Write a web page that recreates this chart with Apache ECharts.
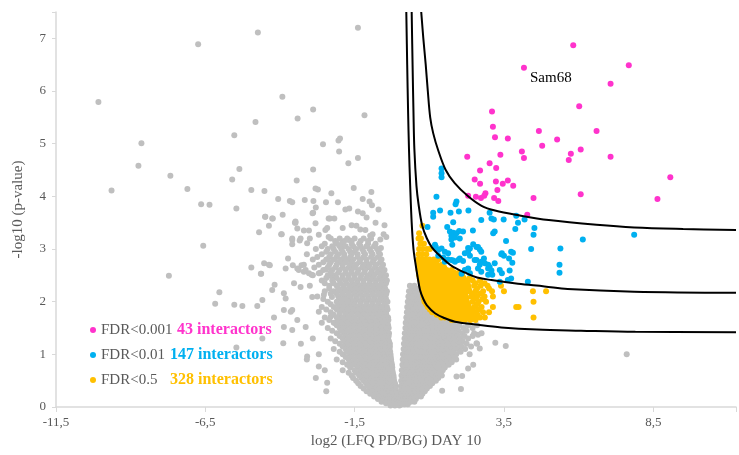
<!DOCTYPE html>
<html>
<head>
<meta charset="utf-8">
<script src="https://cdn.jsdelivr.net/npm/echarts@6/dist/echarts.min.js"></script>
<style>
    html, body { margin: 0; padding: 0; background: #fff; }
    #main { width: 739px; height: 455px; }
</style>
</head>
<body>
<div id="main"></div>
<script>
// tick labels
var xTickValues = [-11.5, -6.5, -1.5, 3.5, 8.5];
var yTickValues = [0, 1, 2, 3, 4, 5, 6, 7];

// legend
var legendNames = ['FDR<0.001', 'FDR<0.01', 'FDR<0.5'];
var legendCounts = ['43 interactors', '147 interactors', '328 interactors'];

// labelled protein
var samPoint = [4.17, 6.44];
var samName = 'Sam68';

// FDR<0.001
var pinkPoints = [
    [5.82, 6.87], [4.17, 6.44], [7.68, 6.49], [7.07, 6.14], [6.02, 5.71], [3.10, 5.61], [3.13, 5.32],
    [3.2, 5.12], [3.63, 5.10], [4.67, 5.24], [6.6, 5.24], [5.28, 5.08], [4.78, 4.96], [6.07, 4.89],
    [5.74, 4.81], [5.67, 4.69], [7.07, 4.75], [4.1, 4.85], [4.17, 4.73], [2.27, 4.75], [3.38, 4.79],
    [3.02, 4.63], [3.24, 4.54], [2.7, 4.49], [2.52, 4.32], [2.7, 4.24], [3.23, 4.28], [3.46, 4.24],
    [3.63, 4.3], [3.81, 4.2], [3.28, 4.12], [2.88, 4.06], [2.3, 4.01], [2.56, 3.99], [2.73, 3.97],
    [2.84, 4.01], [3.17, 3.97], [3.31, 3.91], [4.49, 3.97], [6.07, 4.04], [9.07, 4.36], [8.64, 3.95],
    [4.28, 3.65]
];

// FDR<0.01
var bluePoints = [
    [1.41, 4.53], [1.41, 4.44], [1.41, 4.36], [1.24, 3.99], [1.91, 3.9], [1.88, 3.85], [1.36, 3.73],
    [1.13, 3.69], [1.13, 3.61], [1.71, 3.69], [1.99, 3.71], [2.31, 3.73], [3.02, 3.69], [3.08, 3.58],
    [3.16, 3.56], [2.74, 3.55], [3.49, 3.56], [3.91, 3.63], [3.97, 3.5], [4.19, 3.56], [4.52, 3.4],
    [3.88, 3.38], [1.8, 3.51], [0.94, 3.42], [1.6, 3.42], [2.46, 3.35], [3.19, 3.33], [3.14, 3.3],
    [1.69, 3.33], [1.8, 3.31], [1.91, 3.3], [2.0, 3.34], [2.13, 3.33], [1.74, 3.25], [1.86, 3.22],
    [2.02, 3.2], [1.74, 3.18], [4.49, 3.27], [6.14, 3.18], [3.57, 3.15], [2.47, 3.09], [2.58, 3.04],
    [2.69, 2.99], [2.74, 2.95], [2.3, 3.02], [2.3, 2.95], [2.36, 2.87], [1.77, 3.08], [1.22, 3.04],
    [1.3, 2.98], [1.41, 3.01], [1.52, 2.95], [1.63, 2.92], [1.3, 2.87], [1.47, 2.84], [1.63, 2.8],
    [1.8, 2.78], [1.52, 2.76], [1.97, 2.79], [2.13, 2.77], [2.58, 2.79], [2.74, 2.76], [2.83, 2.82],
    [2.69, 2.7], [2.97, 2.7], [3.43, 2.92], [3.5, 2.87], [3.74, 2.95], [3.67, 2.82], [4.41, 3.0],
    [5.39, 3.01], [5.36, 2.7], [5.36, 2.55], [2.3, 2.63], [2.36, 2.54], [2.19, 2.6], [2.08, 2.53],
    [3.02, 2.66], [3.08, 2.59], [2.97, 2.51], [3.36, 2.6], [3.43, 2.54], [3.74, 2.44], [3.69, 2.59],
    [2.63, 2.63], [2.74, 2.57], [3.36, 2.38], [3.63, 2.41], [4.3, 2.38], [3.11, 2.51], [3.8, 2.93],
    [3.41, 2.9], [3.19, 2.73], [7.86, 3.27], [3.78, 2.74], [1.19, 3.08], [1.74, 2.79], [1.86, 2.76],
    [2.02, 2.82], [2.19, 2.92], [2.36, 3.01], [2.63, 3.04], [2.52, 2.79], [2.86, 2.73], [2.97, 2.63]
];

// FDR<0.5, one row per -log10 level
var orangeRows = [
    [3.44, [0.77]],
    [3.3, [0.66]],
    [3.2, [0.64, 0.72]],
    [3.1, [0.7, 0.82]],
    [3.0, [0.66, 0.78, 0.92, 1.02]],
    [2.9, [0.64, 0.76, 0.9]],
    [2.8, [0.63, 0.74, 0.86, 1.0, 1.15, 1.3]],
    [2.75, [0.68, 0.8, 0.93, 1.08, 1.22]],
    [2.7, [0.62, 0.74, 0.86, 0.98, 1.12, 1.26, 1.42]],
    [2.65, [0.7, 0.82, 0.94, 1.06, 1.2, 1.34, 1.5]],
    [2.6, [0.64, 0.76, 0.88, 1.0, 1.13, 1.27, 1.42, 1.58, 1.75]],
    [2.55, [0.7, 0.82, 0.94, 1.07, 1.2, 1.35, 1.5, 1.67, 1.84, 2.0]],
    [2.5, [0.66, 0.78, 0.9, 1.02, 1.15, 1.29, 1.44, 1.6, 1.76, 1.92, 2.1]],
    [2.45, [0.68, 0.8, 0.92, 1.04, 1.17, 1.31, 1.46, 1.62, 1.78, 1.95, 2.15, 2.35]],
    [2.4, [0.7, 0.82, 0.94, 1.06, 1.2, 1.34, 1.48, 1.63, 1.78, 1.94, 2.1, 2.26, 2.45, 2.7]],
    [2.35, [0.72, 0.84, 0.96, 1.08, 1.22, 1.36, 1.5, 1.65, 1.8, 1.96, 2.12, 2.28, 2.55, 2.85]],
    [2.3, [0.74, 0.86, 0.98, 1.1, 1.24, 1.38, 1.52, 1.67, 1.82, 1.98, 2.14, 2.3, 2.5, 2.72, 2.95, 3.4]],
    [2.25, [0.76, 0.88, 1.0, 1.12, 1.26, 1.4, 1.54, 1.68, 1.84, 2.0, 2.16, 2.32, 2.6, 3.0]],
    [2.2, [0.78, 0.9, 1.02, 1.15, 1.28, 1.42, 1.56, 1.7, 1.86, 2.02, 2.18, 2.35, 2.55, 2.8, 3.1, 3.5, 4.47, 4.91]],
    [2.15, [0.79, 0.92, 1.04, 1.17, 1.3, 1.44, 1.58, 1.73, 1.88, 2.04, 2.2, 2.45, 2.7]],
    [2.1, [0.8, 0.94, 1.06, 1.2, 1.33, 1.47, 1.61, 1.76, 1.91, 2.06, 2.22, 2.4, 2.6, 2.85, 3.13]],
    [2.05, [0.82, 0.96, 1.08, 1.22, 1.36, 1.5, 1.64, 1.78, 1.93, 2.08, 2.24, 2.5, 2.78]],
    [2.0, [0.84, 0.98, 1.1, 1.24, 1.38, 1.52, 1.66, 1.8, 1.95, 2.1, 2.26, 2.45, 2.65, 2.9, 4.49]],
    [1.95, [0.9, 1.02, 1.14, 1.27, 1.41, 1.55, 1.69, 1.83, 1.98, 2.13, 2.3, 2.6]],
    [1.9, [0.95, 1.06, 1.18, 1.3, 1.44, 1.58, 1.72, 1.86, 2.0, 2.15, 2.32, 2.5, 2.75, 3.13, 3.91, 3.99]],
    [1.85, [1.02, 1.15, 1.28, 1.42, 1.56, 1.7, 1.84, 1.98, 2.13, 2.3, 2.45, 2.65]],
    [1.8, [1.1, 1.22, 1.35, 1.48, 1.62, 1.76, 1.9, 2.05, 2.2, 2.36, 2.55, 2.8, 3.0]],
    [1.75, [1.25, 1.38, 1.52, 1.66, 1.8, 1.94, 2.08, 2.24, 2.4, 2.62]],
    [1.7, [1.4, 1.52, 1.65, 1.78, 1.92, 2.06, 2.2, 2.36, 2.52, 2.7, 2.86, 4.49]],
    [1.65, [1.75, 1.9, 2.05, 2.2, 2.38, 2.55]]
];

// not significant: scattered points
var grayPoints = [
    [-10.08, 5.79], [-9.64, 4.11], [-8.64, 5.01], [-8.74, 4.58], [-7.67, 4.39], [-7.1, 4.14], [-6.74, 6.89],
    [-6.64, 3.85], [-6.36, 3.84], [-5.6, 4.32], [-5.53, 5.16], [-5.46, 3.77], [-5.36, 4.52], [-4.96, 4.12],
    [-4.82, 5.41], [-4.74, 7.11], [-4.52, 4.1], [-4.49, 3.61], [-4.24, 3.58], [-4.06, 3.95], [-3.92, 5.89],
    [-3.91, 3.65], [-3.67, 3.91], [-3.59, 3.89], [-3.44, 4.3], [-3.41, 5.48], [-3.17, 3.93], [-2.89, 5.65],
    [-2.89, 4.51], [-2.88, 3.91], [-2.81, 4.15], [-2.73, 4.13], [-2.56, 4.99], [-2.46, 3.89], [-2.28, 4.06],
    [-2.06, 3.89], [-2.04, 5.06], [-1.99, 5.1], [-2.02, 4.85], [-1.71, 4.63], [-1.53, 4.16], [-1.39, 7.2],
    [-1.39, 4.73], [-1.23, 3.95], [-1.17, 5.54], [-1.81, 3.75], [-1.68, 3.77], [-1.39, 3.71], [-1.23, 3.68],
    [-2.91, 3.68], [-2.8, 3.79], [-2.37, 3.58], [-2.18, 3.58], [-3.5, 3.5],
    [-6.57, 3.06], [-7.72, 2.49], [-6.03, 2.18], [-6.17, 1.96], [-5.53, 1.94], [-5.26, 1.92], [-5.46, 1.13],
    [-4.96, 2.65], [-4.53, 2.73], [-4.37, 2.7], [-4.64, 2.53], [-4.76, 1.92], [-4.59, 2.03], [-4.18, 2.32],
    [-4.26, 2.22], [-4.2, 1.7], [-4.59, 1.3], [-3.94, 3.28], [-3.73, 2.82], [-3.87, 2.16], [-3.81, 2.06],
    [-3.87, 1.84], [-3.64, 1.81], [-3.87, 1.52], [-3.59, 1.46], [-3.89, 1.21], [-3.37, 2.6], [-3.2, 2.57],
    [-3.03, 2.54], [-3.53, 2.35], [-3.31, 2.28], [-3.59, 1.84], [-3.42, 1.65], [-3.14, 1.52], [-3.09, 0.96],
    [-2.42, 0.46], [-2.7, 0.77], [-3.59, 3.17], [-3.31, 3.2], [-3.09, 3.11], [-2.7, 3.27], [-2.37, 3.23],
    [-2.14, 3.14], [-1.92, 3.11], [-1.7, 3.17], [-2.92, 2.09], [-2.7, 1.81], [-2.53, 2.13], [-2.26, 2.09],
    [-2.31, 1.71], [-2.14, 1.59], [-1.92, 1.46], [-1.81, 1.84], [-1.26, 1.78],
    [-0.94, 4.08], [-0.92, 3.83], [-1.44, 3.44], [-1.31, 3.37], [-1.14, 3.36], [-0.9, 3.28], [-0.98, 3.25],
    [-0.53, 3.28], [-0.44, 3.23], [-0.64, 3.18], [-0.62, 3.02], [-3.48, 3.5], [-3.42, 3.39], [-3.2, 3.35],
    [-3.03, 3.35], [-2.81, 3.49], [-2.89, 3.69], [-2.48, 3.36], [-2.42, 3.4], [-2.33, 3.58], [-4.7, 3.32],
    [-3.96, 3.28], [-3.59, 3.2], [-3.59, 3.09], [-3.34, 3.16], [-3.0, 3.2], [-4.5, 3.61], [-4.26, 3.58],
    [-4.37, 3.44], [-3.48, 3.52], [-4.63, 2.53], [-4.34, 2.69], [-3.81, 2.63], [-3.57, 2.69], [-3.42, 2.63],
    [-3.28, 2.69], [-3.14, 2.6], [-2.94, 2.51], [-2.7, 2.54], [-2.46, 2.61], [-2.26, 2.47],
    [-2.9, 1.3], [-2.7, 1.0], [-2.5, 0.7], [-2.8, 0.55], [-3.1, 0.9], [-2.6, 1.6], [-3.3, 1.2], [-2.45, 0.3],
    [2.1, 0.59], [1.91, 0.58], [2.06, 0.34], [2.3, 0.73], [2.47, 0.8], [2.63, 1.37], [2.69, 1.11],
    [2.58, 1.21], [3.21, 1.22], [3.56, 1.16], [7.61, 1.0], [1.43, 0.31],
    [-1.1, 3.6], [-0.8, 3.5], [-1.6, 3.45], [-0.7, 3.75], [-1.9, 3.4], [-1.0, 3.9], [-0.5, 3.45]
];

// not significant: left arm of the V, one row per -log10 level
var grayLeftRows = [
    [3.2, [-2.3, -2.0, -1.75, -1.5, -1.2, -0.95]],
    [3.15, [-2.15, -1.85, -1.6, -1.3, -1.05]],
    [3.1, [-2.5, -2.1, -1.9, -1.6, -1.35, -1.05, -0.8]],
    [3.05, [-2.6, -2.25, -2.0, -1.8, -1.55, -1.3, -1.1, -0.85]],
    [3.0, [-2.8, -2.4, -2.2, -1.95, -1.7, -1.45, -1.25, -1.0, -0.75]],
    [2.95, [-2.45, -2.15, -1.9, -1.65, -1.5, -1.2, -0.95, -0.7]],
    [2.9, [-3.1, -2.6, -2.3, -2.05, -1.85, -1.6, -1.4, -1.15, -0.9, -0.65]],
    [2.85, [-2.75, -2.35, -2.1, -1.85, -1.65, -1.4, -1.2, -0.95, -0.72]],
    [2.8, [-2.9, -2.45, -2.2, -1.95, -1.75, -1.55, -1.3, -1.1, -0.85, -0.6]],
    [2.75, [-2.55, -2.3, -2.05, -1.8, -1.6, -1.35, -1.1, -0.9, -0.65]],
    [2.7, [-3.2, -2.7, -2.35, -2.1, -1.9, -1.65, -1.45, -1.2, -1.0, -0.78, -0.55]],
    [2.65, [-2.85, -2.4, -2.15, -1.9, -1.7, -1.5, -1.25, -1.05, -0.82, -0.6]],
    [2.6, [-2.55, -2.25, -2.0, -1.8, -1.6, -1.38, -1.15, -0.92, -0.7, -0.5]],
    [2.55, [-2.65, -2.3, -2.05, -1.8, -1.6, -1.4, -1.18, -0.95, -0.75, -0.55]],
    [2.5, [-2.9, -2.4, -2.15, -1.9, -1.7, -1.5, -1.28, -1.05, -0.85, -0.62, -0.45]],
    [2.45, [-2.45, -2.1, -1.9, -1.7, -1.5, -1.3, -1.1, -0.9, -0.68, -0.5]],
    [2.4, [-2.6, -2.25, -2.0, -1.8, -1.6, -1.4, -1.2, -0.98, -0.78, -0.58, -0.42]],
    [2.35, [-2.5, -2.2, -1.98, -1.78, -1.58, -1.4, -1.2, -1.0, -0.8, -0.6, -0.45]],
    [2.3, [-3.0, -2.35, -2.1, -1.88, -1.68, -1.5, -1.3, -1.1, -0.9, -0.7, -0.5]],
    [2.25, [-2.35, -2.05, -1.85, -1.65, -1.45, -1.25, -1.05, -0.85, -0.65, -0.48]],
    [2.2, [-2.5, -2.2, -1.95, -1.75, -1.55, -1.35, -1.15, -0.95, -0.75, -0.55, -0.42]],
    [2.15, [-2.3, -2.1, -1.9, -1.7, -1.5, -1.3, -1.1, -0.9, -0.7, -0.52, -0.44]],
    [2.1, [-2.75, -2.05, -1.85, -1.65, -1.45, -1.25, -1.05, -0.85, -0.65, -0.47]],
    [2.05, [-2.55, -2.0, -1.8, -1.62, -1.42, -1.22, -1.02, -0.82, -0.62, -0.45]],
    [2.0, [-2.4, -2.1, -1.9, -1.72, -1.52, -1.32, -1.12, -0.92, -0.72, -0.52, -0.4]],
    [1.95, [-2.3, -2.05, -1.85, -1.68, -1.5, -1.3, -1.1, -0.9, -0.7, -0.5]],
    [1.9, [-2.6, -2.2, -1.98, -1.78, -1.6, -1.4, -1.2, -1.0, -0.8, -0.6, -0.42]],
    [1.85, [-2.45, -2.1, -1.9, -1.72, -1.55, -1.35, -1.15, -0.95, -0.75, -0.55, -0.4]],
    [1.8, [-2.3, -2.0, -1.82, -1.65, -1.45, -1.25, -1.05, -0.85, -0.65, -0.45]],
    [1.75, [-2.2, -2.0, -1.8, -1.6, -1.4, -1.2, -1.0, -0.8, -0.6, -0.44]],
    [1.7, [-2.5, -2.1, -1.9, -1.7, -1.5, -1.3, -1.1, -0.9, -0.7, -0.52, -0.38]],
    [1.65, [-2.35, -2.05, -1.85, -1.65, -1.45, -1.25, -1.05, -0.85, -0.65, -0.47, -0.37]],
    [1.6, [-2.2, -1.95, -1.75, -1.55, -1.35, -1.15, -0.95, -0.75, -0.56, -0.4]],
    [1.55, [-2.1, -1.9, -1.7, -1.5, -1.3, -1.1, -0.9, -0.7, -0.52, -0.38]],
    [1.5, [-2.4, -2.0, -1.8, -1.6, -1.4, -1.2, -1.0, -0.8, -0.62, -0.45, -0.36]],
    [1.45, [-2.25, -1.95, -1.75, -1.55, -1.35, -1.15, -0.95, -0.75, -0.57, -0.42]],
    [1.4, [-2.1, -1.85, -1.65, -1.45, -1.25, -1.05, -0.85, -0.66, -0.5, -0.35]],
    [1.35, [-2.0, -1.8, -1.6, -1.4, -1.2, -1.0, -0.8, -0.62, -0.46, -0.36]],
    [1.3, [-2.3, -1.9, -1.7, -1.5, -1.3, -1.1, -0.9, -0.72, -0.55, -0.38]],
    [1.25, [-2.15, -1.85, -1.65, -1.45, -1.25, -1.05, -0.85, -0.68, -0.52, -0.35]],
    [1.2, [-2.0, -1.75, -1.55, -1.35, -1.15, -0.95, -0.78, -0.6, -0.45, -0.32]],
    [1.15, [-1.9, -1.7, -1.5, -1.3, -1.1, -0.9, -0.72, -0.56, -0.4, -0.32]],
    [1.1, [-2.2, -1.8, -1.6, -1.4, -1.2, -1.0, -0.82, -0.65, -0.48, -0.33]],
    [1.05, [-2.0, -1.75, -1.55, -1.35, -1.15, -0.96, -0.78, -0.6, -0.44, -0.31]],
    [1.0, [-1.9, -1.65, -1.45, -1.25, -1.05, -0.88, -0.7, -0.53, -0.38, -0.3]],
    [0.95, [-1.8, -1.6, -1.4, -1.2, -1.0, -0.82, -0.66, -0.5, -0.35, -0.29]],
    [0.9, [-2.1, -1.7, -1.5, -1.3, -1.1, -0.92, -0.75, -0.58, -0.42, -0.28]],
    [0.85, [-1.9, -1.65, -1.45, -1.25, -1.05, -0.87, -0.7, -0.54, -0.4, -0.27]],
    [0.8, [-1.75, -1.55, -1.35, -1.15, -0.97, -0.8, -0.63, -0.47, -0.33, -0.25]],
    [0.75, [-1.65, -1.4, -1.2, -1.02, -0.87, -0.72, -0.57, -0.43, -0.3, -0.24]],
    [0.7, [-1.9, -1.5, -1.3, -1.1, -0.95, -0.8, -0.65, -0.5, -0.36, -0.24]],
    [0.65, [-1.7, -1.45, -1.25, -1.05, -0.9, -0.75, -0.6, -0.46, -0.32, -0.22]],
    [0.6, [-1.6, -1.35, -1.15, -0.98, -0.82, -0.68, -0.54, -0.4, -0.27, -0.2]],
    [0.55, [-1.55, -1.28, -1.08, -0.92, -0.77, -0.62, -0.49, -0.36, -0.24, -0.19]],
    [0.5, [-1.45, -1.2, -1.0, -0.85, -0.7, -0.56, -0.43, -0.3, -0.18]],
    [0.45, [-1.38, -1.12, -0.95, -0.8, -0.64, -0.5, -0.38, -0.26, -0.15]],
    [0.4, [-1.3, -1.05, -0.88, -0.72, -0.58, -0.45, -0.33, -0.2, -0.13]],
    [0.35, [-1.2, -0.98, -0.8, -0.66, -0.52, -0.4, -0.28, -0.17, -0.12]],
    [0.3, [-1.1, -0.9, -0.74, -0.6, -0.47, -0.35, -0.24, -0.12]],
    [0.25, [-0.98, -0.8, -0.64, -0.5, -0.37, -0.25, -0.14, -0.08]],
    [0.2, [-0.85, -0.68, -0.54, -0.42, -0.3, -0.2, -0.1]],
    [0.15, [-0.72, -0.56, -0.4, -0.27, -0.15, -0.05]],
    [0.1, [-0.6, -0.45, -0.32, -0.2, -0.1, 0.0]],
    [0.07, [-0.45, -0.3, -0.18, -0.06, 0.05]],
    [0.03, [-0.3, -0.15, 0.0]]
];

// not significant: right arm of the V
var grayRightRows = [
    [2.3, [0.35, 0.5]],
    [2.25, [0.42, 0.56]],
    [2.2, [0.32, 0.48, 0.62]],
    [2.15, [0.38, 0.52, 0.66]],
    [2.1, [0.3, 0.45, 0.6, 0.72]],
    [2.05, [0.35, 0.5, 0.64, 0.76]],
    [2.0, [0.28, 0.42, 0.56, 0.7, 0.8]],
    [1.95, [0.33, 0.47, 0.61, 0.75, 0.88]],
    [1.9, [0.26, 0.4, 0.54, 0.68, 0.82, 0.95]],
    [1.85, [0.31, 0.45, 0.59, 0.73, 0.87, 1.0]],
    [1.8, [0.25, 0.38, 0.52, 0.66, 0.8, 0.94, 1.08]],
    [1.75, [0.3, 0.43, 0.57, 0.71, 0.85, 0.99, 1.13, 1.27]],
    [1.7, [0.23, 0.36, 0.5, 0.64, 0.78, 0.92, 1.06, 1.2, 1.35]],
    [1.65, [0.28, 0.42, 0.56, 0.7, 0.84, 0.98, 1.12, 1.27, 1.42, 1.58, 1.76]],
    [1.6, [0.21, 0.35, 0.49, 0.63, 0.77, 0.91, 1.05, 1.2, 1.35, 1.5, 1.68, 1.85]],
    [1.55, [0.27, 0.41, 0.55, 0.69, 0.83, 0.97, 1.12, 1.28, 1.44, 1.6, 1.8, 2.0, 2.3, 2.6]],
    [1.5, [0.2, 0.34, 0.48, 0.62, 0.76, 0.9, 1.05, 1.2, 1.36, 1.52, 1.7, 1.9, 2.15, 2.45]],
    [1.45, [0.25, 0.39, 0.53, 0.67, 0.82, 0.97, 1.12, 1.28, 1.44, 1.6, 1.78, 1.98, 2.25]],
    [1.4, [0.18, 0.32, 0.46, 0.6, 0.75, 0.9, 1.05, 1.2, 1.36, 1.52, 1.7, 1.88, 2.1, 2.5, 2.75]],
    [1.35, [0.24, 0.37, 0.51, 0.65, 0.8, 0.95, 1.1, 1.25, 1.42, 1.58, 1.76, 1.95, 2.18, 2.45]],
    [1.3, [0.17, 0.3, 0.44, 0.58, 0.72, 0.87, 1.02, 1.17, 1.33, 1.5, 1.67, 1.85, 2.05, 2.3]],
    [1.25, [0.22, 0.35, 0.49, 0.63, 0.78, 0.93, 1.08, 1.23, 1.38, 1.54, 1.72, 1.9, 2.12]],
    [1.2, [0.15, 0.28, 0.42, 0.56, 0.7, 0.85, 1.0, 1.15, 1.3, 1.46, 1.62, 1.8, 2.0, 2.25, 2.6]],
    [1.15, [0.2, 0.34, 0.47, 0.61, 0.75, 0.9, 1.05, 1.2, 1.35, 1.5, 1.66, 1.85, 2.08, 2.4]],
    [1.1, [0.14, 0.27, 0.4, 0.54, 0.68, 0.82, 0.97, 1.12, 1.27, 1.42, 1.58, 1.75, 1.95, 2.2]],
    [1.05, [0.19, 0.32, 0.45, 0.59, 0.73, 0.87, 1.01, 1.16, 1.3, 1.46, 1.62, 1.8, 2.05]],
    [1.0, [0.12, 0.25, 0.38, 0.52, 0.66, 0.8, 0.94, 1.08, 1.23, 1.38, 1.54, 1.7, 1.9, 2.35]],
    [0.95, [0.17, 0.3, 0.43, 0.57, 0.7, 0.84, 0.98, 1.13, 1.28, 1.43, 1.6, 1.78]],
    [0.9, [0.11, 0.23, 0.36, 0.5, 0.63, 0.77, 0.91, 1.05, 1.2, 1.35, 1.5, 1.68, 1.9]],
    [0.85, [0.16, 0.28, 0.41, 0.54, 0.67, 0.81, 0.95, 1.09, 1.23, 1.38, 1.55, 1.75]],
    [0.8, [0.1, 0.22, 0.34, 0.47, 0.6, 0.74, 0.88, 1.02, 1.16, 1.3, 1.46, 1.65]],
    [0.75, [0.14, 0.26, 0.39, 0.52, 0.65, 0.78, 0.92, 1.06, 1.2, 1.36, 1.52]],
    [0.7, [0.08, 0.2, 0.32, 0.45, 0.58, 0.71, 0.85, 0.99, 1.13, 1.28, 1.45]],
    [0.65, [0.13, 0.24, 0.36, 0.49, 0.62, 0.75, 0.89, 1.03, 1.17, 1.33]],
    [0.6, [0.07, 0.18, 0.3, 0.42, 0.55, 0.68, 0.82, 0.96, 1.1, 1.25, 1.42]],
    [0.55, [0.12, 0.22, 0.33, 0.45, 0.58, 0.71, 0.85, 0.99, 1.14, 1.3]],
    [0.5, [0.06, 0.16, 0.27, 0.39, 0.51, 0.64, 0.78, 0.92, 1.06, 1.22]],
    [0.45, [0.1, 0.2, 0.31, 0.43, 0.55, 0.68, 0.82, 0.96, 1.1]],
    [0.4, [0.05, 0.14, 0.25, 0.36, 0.48, 0.6, 0.73, 0.87, 1.02]],
    [0.35, [0.09, 0.18, 0.29, 0.4, 0.52, 0.64, 0.78, 0.92]],
    [0.3, [0.05, 0.13, 0.23, 0.33, 0.44, 0.56, 0.7, 0.85]],
    [0.25, [0.1, 0.19, 0.29, 0.39, 0.5, 0.63, 0.77]],
    [0.2, [0.06, 0.15, 0.24, 0.34, 0.45, 0.58, 0.72]],
    [0.15, [0.12, 0.21, 0.32, 0.43, 0.55]],
    [0.1, [0.08, 0.17, 0.27, 0.38, 0.5]],
    [0.05, [0.08, 0.17, 0.28]]
];

// FDR threshold curves
var curve001 = [
    [0.73, 7.5], [0.8, 7.0], [0.88, 6.5], [0.95, 6.0], [1.03, 5.5], [1.13, 5.2], [1.3, 4.87], [1.55, 4.5],
    [1.85, 4.25], [2.3, 4.0], [2.75, 3.82], [3.2, 3.73], [4.0, 3.64], [5.0, 3.55], [6.6, 3.46],
    [7.86, 3.41], [9.5, 3.38], [11.27, 3.36]
];
var curve01 = [
    [0.41, 7.5], [0.44, 6.5], [0.47, 5.6], [0.5, 4.9], [0.57, 4.2], [0.64, 3.85], [0.76, 3.45],
    [0.92, 3.2], [1.1, 3.02], [1.3, 2.9], [1.55, 2.77], [1.8, 2.66], [2.2, 2.55], [2.6, 2.46],
    [3.08, 2.41], [3.97, 2.34], [4.86, 2.29], [5.63, 2.24], [7.86, 2.19], [11.27, 2.17]
];
var curve5 = [
    [0.23, 7.5], [0.26, 6.5], [0.29, 5.6], [0.32, 4.9], [0.36, 4.2], [0.41, 3.5], [0.47, 3.0],
    [0.53, 2.75], [0.6, 2.5], [0.69, 2.22], [0.8, 2.05], [0.92, 1.93], [1.19, 1.78], [1.5, 1.69],
    [1.86, 1.62], [2.63, 1.56], [3.41, 1.51], [4.6, 1.47], [6.08, 1.45], [7.9, 1.43], [11.27, 1.42]
];

var textGray = '#595959';
var axisGray = '#d9d9d9';

function rowsToPoints(rows) {
    var pts = [];
    for (var i = 0; i < rows.length; i++) {
        for (var j = 0; j < rows[i][1].length; j++) {
            pts.push([rows[i][1][j], rows[i][0]]);
        }
    }
    return pts;
}

function tickFormatter(list) {
    return function (v) {
        for (var i = 0; i < list.length; i++) {
            if (Math.abs(list[i] - v) < 1e-6) {
                return String(list[i]).replace('.', ',');
            }
        }
        return '';
    };
}

var grayAll = grayPoints.concat(rowsToPoints(grayLeftRows), rowsToPoints(grayRightRows));
var orangeAll = rowsToPoints(orangeRows);

var pinkData = [];
for (var i = 0; i < pinkPoints.length; i++) {
    var p = pinkPoints[i];
    if (p[0] == samPoint[0] && p[1] == samPoint[1]) {
        pinkData.push({
            value: p,
            label: {
                show: true, formatter: samName, position: 'right', distance: 3, offset: [0, 10],
                color: '#000', fontSize: 15, fontFamily: 'Liberation Serif'
            }
        });
    } else {
        pinkData.push(p);
    }
}

function lineSeries(data) {
    return {
        type: 'line', data: data, showSymbol: false, smooth: 0.35, silent: true, z: 5,
        lineStyle: {color: '#000', width: 2}
    };
}

var myChart = echarts.init(document.getElementById('main'));

var option = {
    animation: false,
    textStyle: {fontFamily: 'Liberation Serif'},
    grid: {left: 56, right: 0, top: 12, bottom: 48},
    legend: {
        orient: 'vertical', left: 85, top: 317, itemWidth: 6, itemHeight: 6, itemGap: 9,
        icon: 'circle', selectedMode: false,
        data: legendNames,
        formatter: function (name) {
            var idx = legendNames.indexOf(name);
            var style = ['p', 'c', 'o'][idx];
            var lead = idx == 0 ? 'a1' : 'a2';
            return '{' + lead + '|' + name + '}{' + style + '|' + legendCounts[idx] + '}';
        },
        textStyle: {
            rich: {
                a1: {width: 76, color: textGray, fontSize: 15, fontFamily: 'Liberation Serif'},
                a2: {width: 69, color: textGray, fontSize: 15, fontFamily: 'Liberation Serif'},
                p: {color: '#ff33cc', fontSize: 16, fontWeight: 'bold', fontFamily: 'Liberation Serif'},
                c: {color: '#00b0f0', fontSize: 16, fontWeight: 'bold', fontFamily: 'Liberation Serif'},
                o: {color: '#ffc000', fontSize: 16, fontWeight: 'bold', fontFamily: 'Liberation Serif'}
            }
        }
    },
    xAxis: {
        type: 'value', min: -11.5, max: 11.27, interval: 5,
        name: 'log2 (LFQ PD/BG) DAY 10', nameLocation: 'middle', nameGap: 26,
        nameTextStyle: {color: textGray, fontSize: 15},
        axisLine: {onZero: false, lineStyle: {color: axisGray, width: 1.5}},
        axisTick: {show: true, length: 5, lineStyle: {color: axisGray}},
        splitLine: {show: false},
        axisLabel: {color: textGray, fontSize: 13, margin: 9, formatter: tickFormatter(xTickValues)}
    },
    yAxis: {
        type: 'value', min: 0, max: 7.5, interval: 1,
        name: '-log10 (p-value)', nameLocation: 'middle', nameGap: 30, nameRotate: 90,
        nameTextStyle: {color: textGray, fontSize: 15},
        axisLine: {show: true, onZero: false, lineStyle: {color: axisGray, width: 1.5}},
        axisTick: {show: true, length: 4, lineStyle: {color: axisGray}},
        splitLine: {show: false},
        axisLabel: {color: textGray, fontSize: 13, margin: 10, formatter: tickFormatter(yTickValues)}
    },
    series: [
        {name: 'n.s.', type: 'scatter', data: grayAll, symbolSize: 6, itemStyle: {color: '#bfbfbf', opacity: 1}},
        {name: 'FDR<0.5', type: 'scatter', data: orangeAll, symbolSize: 6, itemStyle: {color: '#ffc000', opacity: 1}},
        {name: 'FDR<0.01', type: 'scatter', data: bluePoints, symbolSize: 6, itemStyle: {color: '#00b0f0', opacity: 1}},
        {name: 'FDR<0.001', type: 'scatter', data: pinkData, symbolSize: 6, itemStyle: {color: '#ff33cc', opacity: 1}},
        lineSeries(curve001),
        lineSeries(curve01),
        lineSeries(curve5)
    ]
};

myChart.setOption(option, true);
window.onresize = myChart.resize;
</script>
</body>
</html>
